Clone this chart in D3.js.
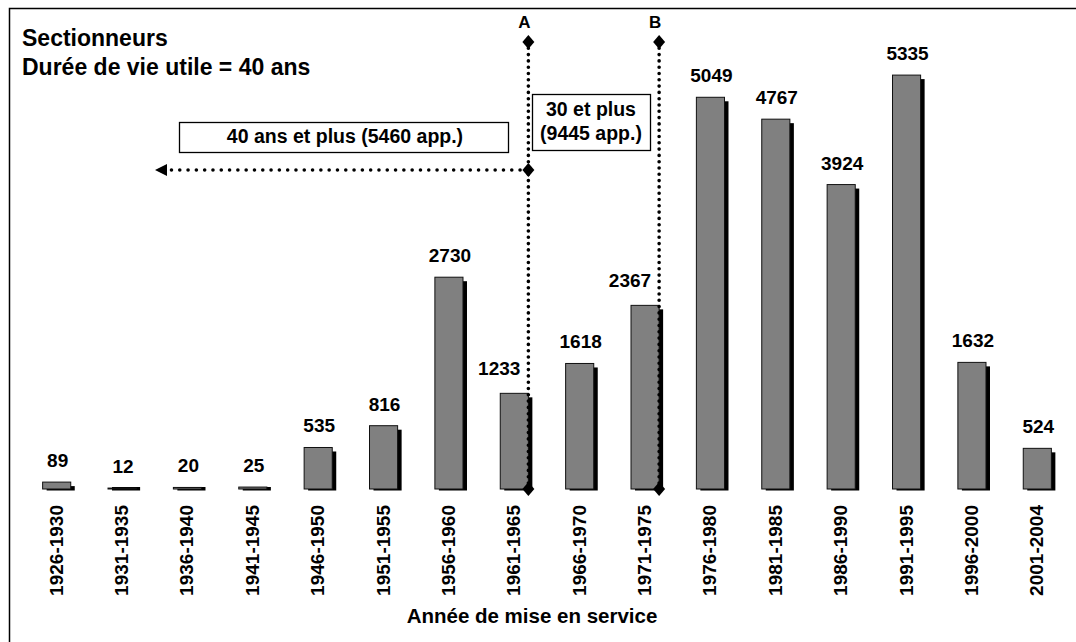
<!DOCTYPE html>
<html>
<head>
<meta charset="utf-8">
<script src="https://cdn.jsdelivr.net/npm/d3@7"></script>
<style>
  body { margin: 0; background: #fff; }
  svg text { font-family: "Liberation Sans", Arial, sans-serif; font-weight: bold; fill: #000; }
</style>
</head>
<body>
<svg width="1076" height="642"></svg>
<script>
const periods = ['1926-1930', '1931-1935', '1936-1940', '1941-1945', '1946-1950', '1951-1955',
    '1956-1960', '1961-1965', '1966-1970', '1971-1975', '1976-1980', '1981-1985',
    '1986-1990', '1991-1995', '1996-2000', '2001-2004'];
const counts = [89, 12, 20, 25, 535, 816, 2730, 1233, 1618, 2367, 5049, 4767, 3924, 5335, 1632, 524];
const titleLines = ['Sectionneurs', 'Durée de vie utile = 40 ans'];
const markerNames = ['A', 'B'];
const markerPeriods = ['1961-1965', '1971-1975'];
const boxA = ['40 ans et plus (5460 app.)'];
const boxB = ['30 et plus', '(9445 app.)'];
const axisTitle = 'Année de mise en service';

document.addEventListener('DOMContentLoaded', () => {
    const svg = d3.select('svg');
    const baseline = 489;

    // cadre
    svg.append('rect')
        .attr('x', 9.5).attr('y', 8.5)
        .attr('width', 1200).attr('height', 800)
        .attr('fill', 'none').attr('stroke', '#000').attr('stroke-width', 1.5);

    const x = d3.scaleBand()
        .domain(periods)
        .range([24, 1070])
        .paddingInner(0.57)
        .paddingOuter(0.285);
    const y = d3.scaleLinear()
        .domain([0, 6000])
        .range([baseline, 23.5]);
    const bw = x.bandwidth();

    const bars = svg.append('g');
    const data = periods.map((p, i) => ({ p, v: counts[i] }));

    // ombres
    bars.selectAll('rect.shadow')
        .data(data)
        .enter().append('rect')
        .attr('class', 'shadow')
        .attr('x', d => x(d.p) + 4)
        .attr('y', d => Math.min(y(d.v) + 4, baseline - 2))
        .attr('width', bw)
        .attr('height', d => baseline + 1.5 - Math.min(y(d.v) + 4, baseline - 2))
        .attr('fill', '#000');

    bars.selectAll('rect.bar')
        .data(data)
        .enter().append('rect')
        .attr('class', 'bar')
        .attr('x', d => x(d.p))
        .attr('y', d => y(d.v))
        .attr('width', bw)
        .attr('height', d => baseline - y(d.v))
        .attr('fill', '#808080')
        .attr('stroke', '#111')
        .attr('stroke-width', 1);

    // les valeurs près des lignes A et B sont décalées à gauche
    const shifted = markerPeriods;
    bars.selectAll('text.val')
        .data(data)
        .enter().append('text')
        .attr('class', 'val')
        .attr('x', d => shifted.includes(d.p) ? x(d.p) + bw - 8 : x(d.p) + bw / 2 + 1)
        .attr('y', d => y(d.v) - (shifted.includes(d.p) ? 18 : 15))
        .attr('text-anchor', d => shifted.includes(d.p) ? 'end' : 'middle')
        .attr('font-size', 19)
        .text(d => d.v);

    // étiquettes de l'axe
    svg.append('g').selectAll('text')
        .data(periods)
        .enter().append('text')
        .attr('transform', d => `translate(${x(d) + bw / 2 + 6},505) rotate(-90)`)
        .attr('text-anchor', 'end')
        .attr('font-size', 19)
        .text(d => d);

    svg.append('text')
        .attr('x', 532).attr('y', 623)
        .attr('text-anchor', 'middle')
        .attr('font-size', 20.5)
        .text(axisTitle);

    svg.selectAll('text.title')
        .data(titleLines)
        .enter().append('text')
        .attr('class', 'title')
        .attr('x', 22)
        .attr('y', (d, i) => 46 + i * 29)
        .attr('font-size', 23)
        .text(d => d);

    // lignes A et B
    const diamond = 'M0,-7 L6,0 L0,7 L-6,0 Z';
    const markerX = markerPeriods.map(p => x(p) + bw);
    const topY = 42;

    markerX.forEach((mx, i) => {
        svg.append('line')
            .attr('x1', mx).attr('x2', mx)
            .attr('y1', topY).attr('y2', baseline)
            .attr('stroke', '#000').attr('stroke-width', 3.6)
            .attr('stroke-dasharray', '0 6.3')
            .attr('stroke-linecap', 'round');
        [topY, baseline].forEach(yy => {
            svg.append('path')
                .attr('d', diamond)
                .attr('transform', `translate(${mx},${yy})`)
                .attr('fill', '#000');
        });
        svg.append('text')
            .attr('x', mx - 4).attr('y', 28)
            .attr('text-anchor', 'middle')
            .attr('font-size', 17)
            .text(markerNames[i]);
    });

    // flèche horizontale
    const arrowY = 170;
    svg.append('line')
        .attr('x1', markerX[0]).attr('x2', 168)
        .attr('y1', arrowY).attr('y2', arrowY)
        .attr('stroke', '#000').attr('stroke-width', 3.6)
        .attr('stroke-dasharray', '0 8.3')
        .attr('stroke-linecap', 'round');
    svg.append('path')
        .attr('d', `M155,${arrowY} L167,${arrowY - 6} L167,${arrowY + 6} Z`)
        .attr('fill', '#000');
    svg.append('path')
        .attr('d', diamond)
        .attr('transform', `translate(${markerX[0]},${arrowY})`)
        .attr('fill', '#000');

    // boîtes
    svg.append('rect')
        .attr('x', 179.5).attr('y', 122.5)
        .attr('width', 329).attr('height', 30)
        .attr('fill', '#fff').attr('stroke', '#000').attr('stroke-width', 1.3);
    svg.append('text')
        .attr('x', 345).attr('y', 143)
        .attr('text-anchor', 'middle')
        .attr('font-size', 19.5)
        .text(boxA[0]);

    svg.append('rect')
        .attr('x', 532.5).attr('y', 94.5)
        .attr('width', 118).attr('height', 56)
        .attr('fill', '#fff').attr('stroke', '#000').attr('stroke-width', 1.3);
    svg.selectAll('text.boxb')
        .data(boxB)
        .enter().append('text')
        .attr('class', 'boxb')
        .attr('x', 591)
        .attr('y', (d, i) => 116 + i * 24)
        .attr('text-anchor', 'middle')
        .attr('font-size', 19.5)
        .text(d => d);
});
</script>
</body>
</html>
